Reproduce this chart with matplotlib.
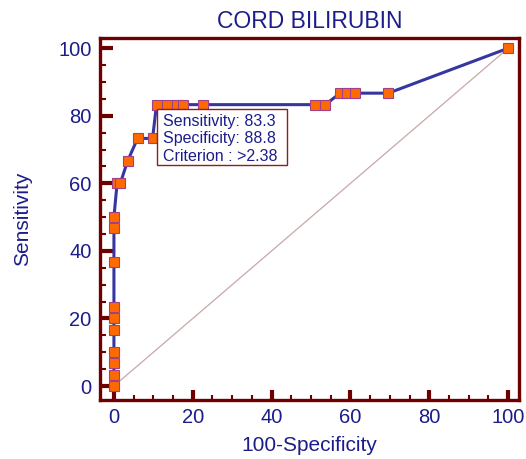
import numpy as np
import matplotlib.pyplot as plt
from matplotlib.patches import Rectangle

plt.rcParams['font.family'] = ['Liberation Sans', 'DejaVu Sans']

# ROC points (100-Specificity, Sensitivity)
fpr = [0, 0, 0, 0, 0, 0, 0, 0, 0, 0,
       0.8, 1.6, 3.5, 6.0, 9.8, 10.8, 13.4, 15.9, 17.6, 22.7,
       51.0, 53.6, 57.4, 59.1, 61.2, 69.6, 100]
tpr = [0, 3.3, 6.7, 10.0, 16.7, 20.0, 23.3, 36.7, 46.7, 50.0,
       60.0, 60.0, 66.7, 73.3, 73.3, 83.3, 83.3, 83.3, 83.3, 83.3,
       83.3, 83.3, 86.7, 86.7, 86.7, 86.7, 100]
stats_text = "Sensitivity: 83.3\nSpecificity: 88.8\nCriterion : >2.38"

NAVY = "#1c1c8a"
SPINE = "#6e0000"

fig = plt.figure(figsize=(5.26, 4.59), dpi=100)
ax = fig.add_axes([0.190, 0.1285, 0.797, 0.7885])

ax.plot([0, 100], [0, 100], color="#c8a8a8", lw=0.9, zorder=1)
ax.plot(fpr, tpr, color="#3636a0", lw=2.2, zorder=2,
        marker="s", markersize=7, markerfacecolor="#ff6a00",
        markeredgecolor="#a0408a", markeredgewidth=0.8)

ax.set_xlim(-3.55, 102.8)
ax.set_ylim(-4.14, 103.0)
ax.set_xticks(np.arange(0, 101, 20))
ax.set_yticks(np.arange(0, 101, 20))
ax.set_xticks(np.arange(0, 101, 5), minor=True)
ax.set_yticks(np.arange(0, 101, 5), minor=True)
ax.tick_params(which="major", direction="in", width=3, color=SPINE,
               labelsize=14.5, labelcolor=NAVY, pad=6)
ax.tick_params(which="minor", direction="in", width=1.5, color=SPINE)
ax.tick_params(axis="x", which="major", length=7)
ax.tick_params(axis="x", which="minor", length=3.6)
ax.tick_params(axis="y", which="major", length=9.5)
ax.tick_params(axis="y", which="minor", length=4.5)
for s in ax.spines.values():
    s.set_color(SPINE)
    s.set_linewidth(2.4)

ax.set_title("CORD BILIRUBIN", color=NAVY, fontsize=16.5, pad=7)
ax.set_xlabel("100-Specificity", color=NAVY, fontsize=15, labelpad=6)
ax.set_ylabel("Sensitivity", color=NAVY, fontsize=15, labelpad=19)

# statistics box at the optimal criterion
ax.add_patch(Rectangle((11.0, 65.4), 32.8, 16.6, fc="white", ec="#8b2020",
                       lw=1, zorder=3))
ax.text(12.4, 80.6, stats_text, color=NAVY, fontsize=11.5, va="top",
        ha="left", linespacing=1.22, zorder=4)

fig.savefig("out.png", dpi=100)
